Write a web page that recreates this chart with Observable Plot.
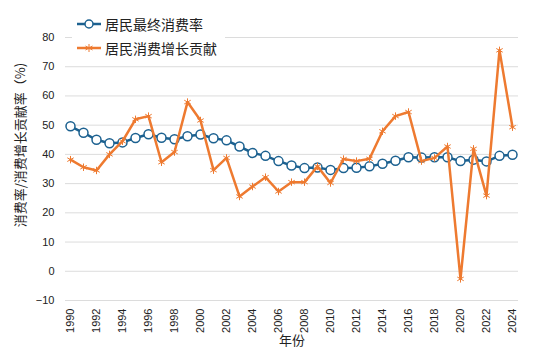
<!DOCTYPE html>
<html><head><meta charset="utf-8">
<script src="https://cdn.jsdelivr.net/npm/d3@7"></script>
<script src="https://cdn.jsdelivr.net/npm/@observablehq/plot@0.6"></script>
<style>
body{margin:0;background:#fff;}
#wrap{position:relative;width:550px;height:359px;}
#legend{position:absolute;left:72px;top:12px;background:#fff;padding:0 8px 0 4px;font-family:"Noto Sans CJK SC",sans-serif;font-size:14px;color:#222;line-height:24px;}
#legend .row{display:flex;align-items:center;height:24px;}
#legend svg{margin-right:3px;}
</style>
</head><body>
<div id="wrap"><div id="chart"></div>
<div id="legend"></div></div>
<script>
const years = [1990,1991,1992,1993,1994,1995,1996,1997,1998,1999,2000,2001,2002,2003,2004,2005,2006,2007,2008,2009,2010,2011,2012,2013,2014,2015,2016,2017,2018,2019,2020,2021,2022,2023,2024];
const consumptionRate = [49.6,47.4,45.0,43.8,44.1,45.6,46.9,45.7,45.2,46.2,46.8,45.5,44.8,42.7,40.5,39.5,37.7,36.2,35.3,35.5,34.7,35.3,35.4,35.9,36.8,37.8,39.0,38.9,39.0,39.0,37.7,38.2,37.6,39.5,39.9];
const contribution = [38.2,35.6,34.5,40.0,44.5,52.0,53.1,37.3,40.8,57.9,51.6,34.6,38.8,25.6,29.0,32.2,27.3,30.5,30.5,35.9,30.2,38.4,37.7,38.5,47.9,53.1,54.5,37.7,38.8,42.7,-2.6,41.9,25.9,75.6,49.3];
const seriesNames = ["居民最终消费率","居民消费增长贡献"];
const yTicks = [-10,0,10,20,30,40,50,60,70,80];
const xTicks = [1990,1992,1994,1996,1998,2000,2002,2004,2006,2008,2010,2012,2014,2016,2018,2020,2022,2024];
const yLabel = "消费率/消费增长贡献率（%)";
const xLabel = "年份";
const blue = "#1c6190", orange = "#ee7a30";

const data = years.map((y,i)=>({year:y, rate:consumptionRate[i], contrib:contribution[i]}));

const chart = Plot.plot({
  width:550, height:359,
  marginTop:37, marginBottom:59, marginLeft:65, marginRight:32,
  style:{fontFamily:"'Liberation Sans', Arial, sans-serif", fontSize:"11px", color:"#222", background:"#fff"},
  x:{domain:[1990,2024], insetLeft:5, insetRight:6},
  y:{domain:[-10,80]},
  marks:[
    Plot.gridY(yTicks,{stroke:"#dcdcdc", strokeOpacity:1, strokeWidth:1}),
    Plot.axisY(yTicks,{tickSize:0, tickPadding:11, label:null, fontSize:11}),
    Plot.axisX(xTicks,{tickSize:0, tickRotate:-90, tickPadding:8, tickFormat:d=>String(d), label:null, fontSize:11}),
    Plot.text([xLabel],{frameAnchor:"bottom", dy:44, fontSize:13, fontFamily:"'Noto Sans CJK SC', sans-serif", fill:"#222"}),
    Plot.text([yLabel],{frameAnchor:"left", textAnchor:"middle", rotate:-90, dx:-45, dy:-24, fontSize:13, fontFamily:"'Noto Sans CJK SC', sans-serif", fill:"#222"}),
    Plot.line(data,{x:"year", y:"rate", stroke:blue, strokeWidth:2.5}),
    Plot.dot(data,{x:"year", y:"rate", r:4.5, fill:"white", stroke:blue, strokeWidth:1.5}),
    Plot.line(data,{x:"year", y:"contrib", stroke:orange, strokeWidth:2.5}),
    Plot.dot(data,{x:"year", y:"contrib", symbol:"asterisk", r:3.5, stroke:orange, strokeWidth:1})
  ]
});
document.getElementById("chart").appendChild(chart);

const leg = document.getElementById("legend");
leg.innerHTML = `
<div class="row"><svg width="26" height="12"><line x1="1" x2="25" y1="6" y2="6" stroke="${blue}" stroke-width="2.5"/><circle cx="13" cy="6" r="4" fill="#fff" stroke="${blue}" stroke-width="1.5"/></svg><span>${seriesNames[0]}</span></div>
<div class="row"><svg width="26" height="12"><line x1="1" x2="25" y1="6" y2="6" stroke="${orange}" stroke-width="2.5"/><g stroke="${orange}" stroke-width="1"><line x1="13" x2="13" y1="2" y2="10"/><line x1="9.5" x2="16.5" y1="4" y2="8"/><line x1="9.5" x2="16.5" y1="8" y2="4"/></g></svg><span>${seriesNames[1]}</span></div>`;
</script>
</body></html>
